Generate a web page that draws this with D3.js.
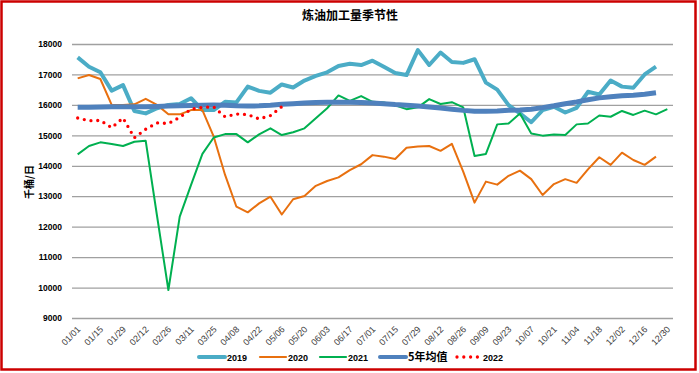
<!DOCTYPE html>
<html lang="zh">
<head>
  <meta charset="UTF-8">
  <title>炼油加工量季节性</title>
  <script src="https://d3js.org/d3.v7.min.js"></script>
  <style>
    body { margin: 0; background: #fff; }
    svg { display: block; font-family: "Liberation Sans", Arial, "Noto Sans CJK SC", sans-serif; }
  </style>
</head>
<body>
  <div id="chart"></div>

  <script>
    // 周度日期 (横轴类目)
    const weeks = ["01/01","01/08","01/15","01/22","01/29","02/05","02/12","02/19","02/26","03/04",
                   "03/11","03/18","03/25","04/01","04/08","04/15","04/22","04/29","05/06","05/13",
                   "05/20","05/27","06/03","06/10","06/17","06/24","07/01","07/08","07/15","07/22",
                   "07/29","08/05","08/12","08/19","08/26","09/02","09/09","09/16","09/23","09/30",
                   "10/07","10/14","10/21","10/28","11/04","11/11","11/18","11/25","12/02","12/09",
                   "12/16","12/23","12/30"];
    const xTickLabels = ["01/01","01/15","01/29","02/12","02/26","03/11","03/25","04/08","04/22","05/06",
                         "05/20","06/03","06/17","07/01","07/15","07/29","08/12","08/26","09/09","09/23",
                         "10/07","10/21","11/04","11/18","12/02","12/16","12/30"];
    const yTicks = [9000, 10000, 11000, 12000, 13000, 14000, 15000, 16000, 17000, 18000];

    const s2019 = [17560,17255,17070,16470,16650,15800,15720,15890,16000,16030,
                   16220,15830,15830,16100,16080,16600,16460,16400,16670,16570,
                   16800,16950,17070,17280,17350,17310,17450,17255,17050,16980,
                   17800,17310,17720,17410,17380,17500,16730,16500,15990,15720,
                   15430,15830,15940,15750,15900,16430,16340,16800,16600,16565,
                   17000,17255];
    const s2020 = [16870,16980,16850,16000,16000,16020,16200,16000,15690,15690,
                   15830,15830,14955,13700,12655,12470,12765,12985,12400,12900,
                   13010,13340,13500,13620,13860,14050,14350,14300,14220,14590,
                   14630,14650,14490,14720,13810,12790,13480,13380,13670,13840,
                   13560,13040,13400,13560,13440,13880,14280,14030,14430,14190,
                   14030,14300];
    const s2021 = [14375,14650,14770,14715,14650,14790,14820,12350,9920,12330,
                   13370,14390,14930,15040,15040,14770,15030,15230,15010,15100,
                   15230,15560,15890,16310,16130,16290,16100,16080,15990,15860,
                   15920,16190,16030,16090,15920,14320,14390,15360,15390,15720,
                   15060,14990,15030,15010,15360,15390,15650,15610,15800,15670,
                   15810,15690,15860];
    const avg5 = [15920,15920,15930,15940,15940,15940,15940,15950,15960,15970,
                  15980,15990,16000,15990,15970,15960,15970,15990,16020,16040,
                  16060,16080,16090,16090,16090,16080,16060,16040,16010,15990,
                  15960,15930,15900,15860,15820,15790,15790,15800,15820,15830,
                  15860,15910,15970,16040,16100,16170,16230,16270,16300,16320,
                  16350,16400];
    const s2022 = [15570,15480,15490,15250,15570,14920,15200,15410,15390,15590,
                   15860,15920,15930,15610,15700,15680,15540,15650,15940];

    const width = 699, height = 373;
    const plot = {left: 72, right: 673, top: 44, bottom: 318};

    const svg = d3.select("#chart").append("svg")
      .attr("width", width)
      .attr("height", height);

    svg.append("rect")
      .attr("x", 0).attr("y", 0)
      .attr("width", width).attr("height", height)
      .attr("fill", "#fff");

    const x = d3.scalePoint()
      .domain(weeks)
      .range([plot.left, plot.right])
      .padding(0.5);

    const y = d3.scaleLinear()
      .domain([9000, 18000])
      .range([plot.bottom, plot.top]);

    // 网格线 + 纵轴
    const yAxis = d3.axisLeft(y)
      .tickValues(yTicks)
      .tickSize(-(plot.right - plot.left))
      .tickPadding(10)
      .tickFormat(d3.format("d"));

    svg.append("g")
      .attr("transform", `translate(${plot.left},0)`)
      .call(yAxis)
      .call(g => g.select(".domain").remove())
      .call(g => g.selectAll(".tick line").attr("stroke", "#a0a0a0").attr("stroke-width", 1.3))
      .call(g => g.selectAll(".tick text")
        .attr("fill", "#000")
        .style("font-size", "8.5px")
        .style("font-weight", "bold"));

    // 横轴标签
    const xAxis = d3.axisBottom(x)
      .tickValues(xTickLabels)
      .tickSize(0);

    svg.append("g")
      .attr("transform", `translate(0,${plot.bottom})`)
      .call(xAxis)
      .call(g => g.select(".domain").remove())
      .call(g => g.selectAll(".tick text")
        .attr("fill", "#404040")
        .style("font-size", "9px")
        .attr("text-anchor", "end")
        .attr("dx", 0)
        .attr("dy", 0)
        .attr("y", 0)
        .attr("transform", "translate(3,12) rotate(-45)"));

    const line = d3.line()
      .x((d, i) => x(weeks[i]))
      .y(d => y(d));

    const series = [
      {name: "2019", data: s2019, color: "#4bacc6", w: 4},
      {name: "2020", data: s2020, color: "#e8700f", w: 2},
      {name: "2021", data: s2021, color: "#00b050", w: 2},
      {name: "5年均值", data: avg5, color: "#4f81bd", w: 5},
      {name: "2022", data: s2022, color: "#ff0000", w: 3.3, dash: "0 6.8"}
    ];

    svg.selectAll(".series")
      .data(series)
      .enter()
      .append("path")
      .attr("class", "series")
      .attr("d", d => line(d.data))
      .attr("fill", "none")
      .attr("stroke", d => d.color)
      .attr("stroke-width", d => d.w)
      .attr("stroke-linejoin", "round")
      .attr("stroke-linecap", d => d.dash ? "round" : "butt")
      .attr("stroke-dasharray", d => d.dash || null);

    // 标题
    svg.append("text")
      .attr("x", 350)
      .attr("y", 20)
      .attr("text-anchor", "middle")
      .style("font-family", "'Noto Sans CJK SC', sans-serif")
      .style("font-size", "12px")
      .style("font-weight", "bold")
      .text("炼油加工量季节性");

    // 纵轴标题
    svg.append("text")
      .attr("transform", "translate(33,182) rotate(-90)")
      .attr("text-anchor", "middle")
      .style("font-family", "'Noto Sans CJK SC', sans-serif")
      .style("font-size", "10px")
      .style("font-weight", "bold")
      .text("千桶/日");

    // 图例
    const legendItems = [
      {name: "2019", color: "#4bacc6", w: 4, x: 199},
      {name: "2020", color: "#e8700f", w: 2.2, x: 260},
      {name: "2021", color: "#00b050", w: 2.2, x: 320},
      {name: "5年均值", color: "#4f81bd", w: 4, x: 380},
      {name: "2022", color: "#ff0000", w: 3.3, x: 455, dash: "0 6.8"}
    ];
    const ly = 357;
    const legend = svg.selectAll(".legend")
      .data(legendItems)
      .enter()
      .append("g")
      .attr("class", "legend")
      .attr("transform", d => `translate(${d.x},${ly})`);

    legend.append("line")
      .attr("x1", d => d.dash ? 2 : 0)
      .attr("x2", 26)
      .attr("y1", 0).attr("y2", 0)
      .attr("stroke", d => d.color)
      .attr("stroke-width", d => d.w)
      .attr("stroke-linecap", "round")
      .attr("stroke-dasharray", d => d.dash || null);

    legend.append("text")
      .attr("x", 28)
      .attr("y", 3.5)
      .style("font-size", d => d.name === "5年均值" ? "11px" : "9px")
      .style("font-family", d => d.name === "5年均值" ? "'Noto Sans CJK SC', sans-serif" : null)
      .style("font-weight", "bold")
      .text(d => d.name);

    // 外框
    svg.append("rect")
      .attr("x", 1.5).attr("y", 1.5)
      .attr("width", 694).attr("height", 368)
      .attr("fill", "none")
      .attr("stroke", "#cc0000")
      .attr("stroke-width", 2.5);
  </script>
</body>
</html>
